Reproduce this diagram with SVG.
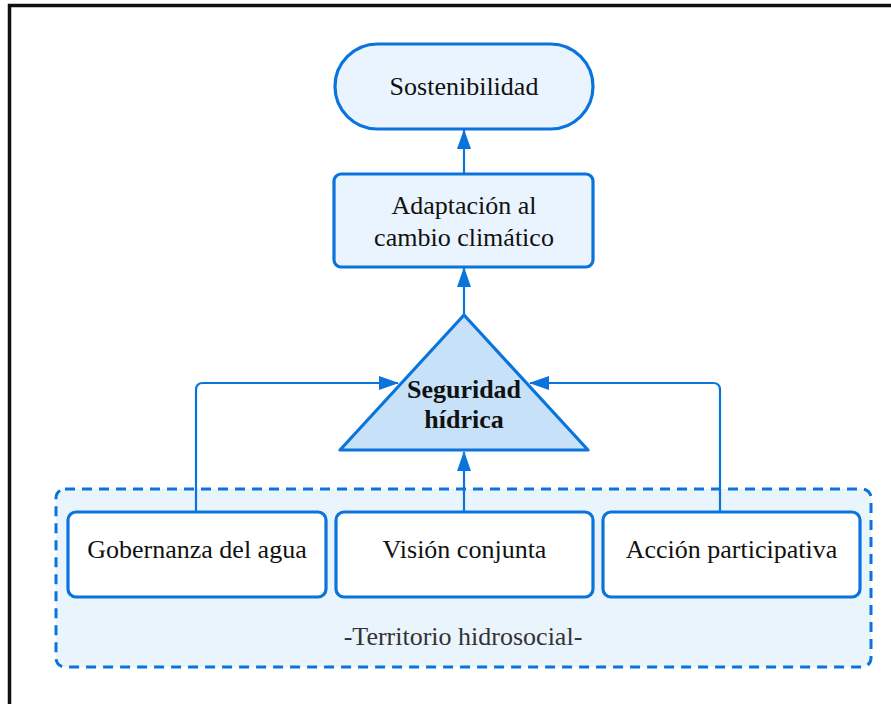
<svg xmlns="http://www.w3.org/2000/svg" width="891" height="704" viewBox="0 0 891 704">
<style>
.t{font-family:"Liberation Serif","Times New Roman",serif;font-size:26px;fill:#111;text-anchor:middle}
.b{font-weight:bold}
.node{stroke:#0b74dc;stroke-width:3.2}
.con{fill:none;stroke:#0b74dc;stroke-width:2.2}
</style>
<defs>
<marker id="ah" viewBox="0 0 20 14" refX="19" refY="7" markerWidth="20" markerHeight="14" markerUnits="userSpaceOnUse" orient="auto">
<path d="M0,0 L20,7 L0,14 Z" fill="#0b74dc"/>
</marker>
</defs>
<rect x="0" y="0" width="891" height="704" fill="#fff"/>
<rect x="9.5" y="5.5" width="910" height="720" fill="none" stroke="#111" stroke-width="3.5"/>
<g id="territorio">
<rect x="56" y="489" width="815" height="178" rx="9" fill="#eaf4fd" stroke="#0b74dc" stroke-width="3" stroke-dasharray="10 7"/>
<text class="t" x="463" y="645" style="fill:#333">-Territorio hidrosocial-</text>
</g>
<g id="connectors">
<line class="con" x1="464" y1="173" x2="464" y2="130" marker-end="url(#ah)"/>
<line class="con" x1="464" y1="315" x2="464" y2="268" marker-end="url(#ah)"/>
<line class="con" x1="464" y1="512" x2="464" y2="452" marker-end="url(#ah)"/>
<path class="con" d="M196,512 L196,390 Q196,383 203,383 L398,383" marker-end="url(#ah)"/>
<path class="con" d="M720,512 L720,390 Q720,383 713,383 L530,383" marker-end="url(#ah)"/>
</g>
<g id="sostenibilidad">
<rect class="node" x="335" y="44" width="258" height="85" rx="42.5" fill="#e9f4fe"/>
<text class="t" x="464" y="95">Sostenibilidad</text>
</g>
<g id="adaptacion">
<rect class="node" x="334" y="174" width="259" height="93" rx="7" fill="#e9f4fe"/>
<text class="t" x="464" y="214">Adaptación al</text>
<text class="t" x="464" y="246">cambio climático</text>
</g>
<g id="seguridad">
<path class="node" d="M464,315 L588,450 L340,450 Z" fill="#c6e1f8" stroke-linejoin="round"/>
<text class="t b" x="464" y="398">Seguridad</text>
<text class="t b" x="464" y="428">hídrica</text>
</g>
<g id="gobernanza">
<rect class="node" x="68" y="512" width="258" height="85" rx="8" fill="#fff"/>
<text class="t" x="197" y="558">Gobernanza del agua</text>
</g>
<g id="vision">
<rect class="node" x="336" y="512" width="257" height="85" rx="8" fill="#fff"/>
<text class="t" x="464.5" y="558">Visión conjunta</text>
</g>
<g id="accion">
<rect class="node" x="603" y="512" width="257" height="85" rx="8" fill="#fff"/>
<text class="t" x="731.5" y="558">Acción participativa</text>
</g>
</svg>
